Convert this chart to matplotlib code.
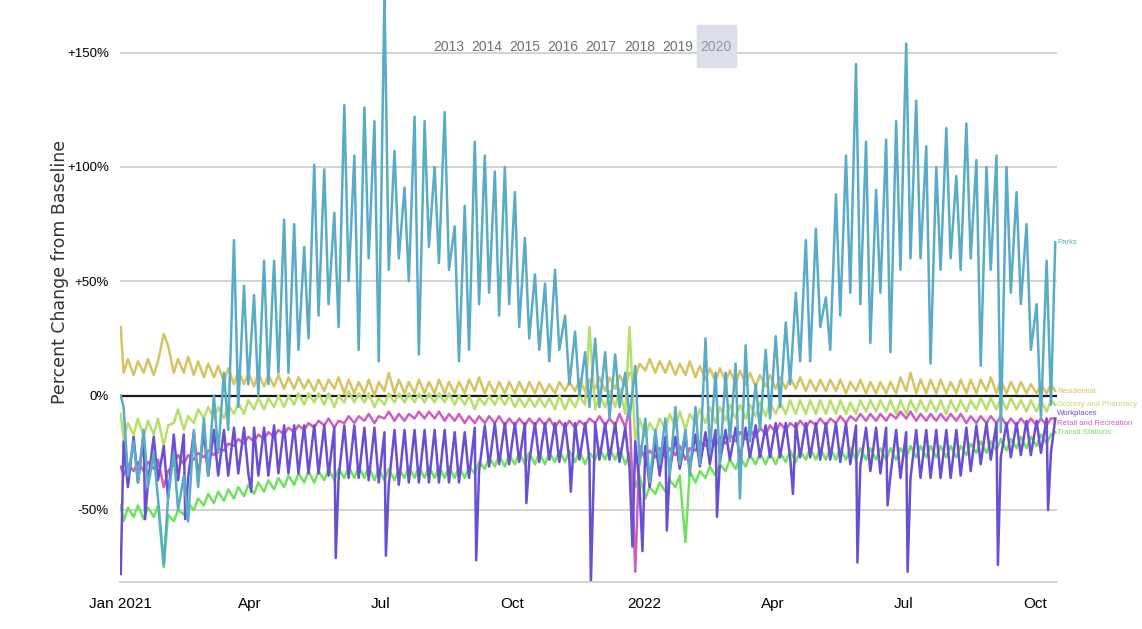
import matplotlib
matplotlib.use('Agg')
import numpy as np
import pandas as pd
import matplotlib.pyplot as plt
from matplotlib.patches import FancyBboxPatch

NARROW = ['Liberation Sans Narrow', 'Liberation Sans', 'DejaVu Sans']

# one value per week: Sunday reading and Wednesday reading, plus first/last day
sundays = pd.date_range('2021-01-03', periods=93, freq='7D')
wednesdays = pd.date_range('2021-01-06', periods=93, freq='7D')
first_day = pd.Timestamp('2021-01-01')
last_day = pd.Timestamp('2022-10-15')

parks_sun = [-5, -20, -15, -25, -74, -25, -35, -15, -10, 0,
             10, 68, 48, 44, 59, 59, 77, 75, 65, 101,
             99, 80, 127, 105, 126, 120, 176, 107, 91, 122,
             120, 100, 124, 74, 83, 111, 105, 98, 100, 89,
             69, 53, 49, 55, 35, 28, 19, 25, 19, 18,
             10, 13, -10, -15, -10, -5, -15, -5, 25, 10,
             10, 14, 22, 5, 20, 26, 32, 45, 68, 73,
             43, 88, 105, 145, 111, 90, 112, 120, 154, 129,
             109, 100, 117, 96, 119, 103, 100, 105, 100, 89,
             75, 40, 59]
parks_wed = [-35, -38, -40, -45, -45, -50, -55, -40, -35, -25,
             -15, -5, 5, 0, 5, 10, 10, 20, 25, 35,
             40, 30, 50, 20, 60, 15, 55, 60, 50, 18,
             65, 58, 55, 15, 20, 40, 45, 35, 40, 30,
             25, 20, 15, 20, 5, 0, -5, -5, -10, -5,
             -10, -30, -38, -30, -35, -30, -35, -30, -25, -30,
             -20, -45, -20, -15, -10, -5, 5, 15, 15, 30,
             20, 35, 45, 40, 23, 45, 19, 55, 60, 60,
             14, 55, 60, 55, 60, 13, 55, -16, 45, 40,
             20, -10, -4]

resid_sun = [10, 9, 10, 9, 27, 10, 10, 9, 8, 8,
             6, 5, 5, 4, 4, 4, 3, 3, 3, 2,
             2, 3, 1, 1, 1, 0, 2, 1, 1, 1,
             1, 1, 1, 1, 1, 2, 1, 1, 1, 1,
             1, 1, 1, 1, 2, 2, 2, 3, 2, 3,
             4, 8, 11, 10, 10, 9, 9, 8, 7, 6,
             6, 5, 5, 4, 4, 3, 3, 3, 2, 2,
             2, 2, 1, 2, 1, 1, 1, 1, 2, 1,
             1, 1, 1, 1, 1, 1, 2, 1, 1, 1,
             1, 1, 1]
resid_wed = [16, 15, 16, 15, 22, 16, 17, 15, 14, 13,
             12, 11, 10, 10, 9, 9, 8, 8, 7, 7,
             7, 8, 7, 6, 7, 6, 10, 7, 6, 7,
             6, 7, 6, 6, 7, 8, 6, 6, 6, 6,
             6, 6, 5, 6, 6, 7, 7, 8, 8, 9,
             10, 14, 16, 15, 15, 14, 15, 13, 12, 12,
             11, 11, 10, 9, 9, 8, 8, 8, 7, 7,
             7, 7, 6, 7, 6, 6, 6, 8, 10, 7,
             7, 7, 6, 7, 7, 7, 8, 7, 6, 6,
             5, 5, 5]

grocery_sun = [-19, -17, -18, -17, -22, -12, -15, -12, -10, -10,
               -10, -8, -8, -6, -6, -5, -5, -4, -4, -3,
               -4, -5, -3, -3, -3, -5, -4, -3, -3, -3,
               -3, -3, -3, -4, -4, -6, -4, -4, -4, -5,
               -5, -5, -5, -6, -6, -5, -4, -6, -5, -5,
               -8, -20, -18, -16, -15, -14, -15, -12, -12, -12,
               -11, -10, -10, -9, -9, -8, -8, -8, -8, -8,
               -8, -8, -8, -8, -7, -7, -7, -8, -8, -7,
               -7, -7, -8, -7, -7, -6, -6, -6, -6, -6,
               -7, -7, -7]
grocery_wed = [-12, -10, -11, -10, -13, -6, -9, -6, -5, -5,
               -4, -3, -2, -1, -1, 0, 0, 1, 1, 1,
               1, 0, 2, 1, 1, -1, 1, 1, 1, 1,
               1, 1, 1, 0, 0, -1, 0, 0, 0, -1,
               -1, -1, -1, 0, -1, 0, 30, 0, 2, 3,
               30, -10, -12, -10, -8, -7, -8, -6, -5, -5,
               -4, -4, -4, -3, -3, -3, -2, -2, -2, -2,
               -2, -2, -3, -2, -2, -2, -2, -2, -2, -2,
               -2, -2, -2, -2, -2, -1, -1, -1, -1, -2,
               -2, -2, -2]

retail_sun = [-35, -33, -33, -32, -40, -30, -30, -28, -27, -26,
              -24, -22, -21, -20, -19, -18, -17, -16, -15, -14,
              -13, -14, -12, -12, -11, -12, -10, -11, -11, -10,
              -10, -10, -11, -11, -12, -12, -12, -12, -13, -13,
              -13, -13, -13, -14, -14, -14, -13, -12, -13, -13,
              -14, -77, -28, -27, -27, -26, -28, -24, -22, -22,
              -21, -20, -19, -18, -17, -16, -15, -14, -14, -13,
              -13, -12, -12, -11, -11, -11, -11, -10, -10, -11,
              -11, -11, -11, -11, -12, -12, -12, -12, -13, -13,
              -13, -13, -13]
retail_wed = [-30, -29, -29, -28, -33, -26, -26, -25, -24, -23,
              -21, -19, -18, -17, -16, -15, -14, -13, -12, -11,
              -10, -11, -9, -9, -8, -9, -7, -8, -8, -7,
              -7, -7, -8, -8, -9, -9, -9, -9, -10, -10,
              -10, -10, -10, -11, -11, -11, -10, -9, -10, -8,
              -5, -22, -24, -23, -23, -22, -23, -20, -18, -18,
              -17, -16, -15, -14, -13, -12, -12, -11, -11, -10,
              -10, -9, -9, -8, -8, -8, -8, -7, -7, -8,
              -8, -8, -8, -8, -9, -9, -9, -9, -10, -10,
              -10, -10, -10]

work_sun = [-20, -18, -17, -18, -22, -17, -17, -16, -16, -15,
            -15, -14, -14, -14, -14, -13, -13, -13, -13, -13,
            -13, -14, -13, -13, -14, -14, -16, -15, -15, -15,
            -15, -15, -15, -16, -16, -14, -13, -12, -12, -12,
            -12, -12, -12, -12, -12, -12, -12, -12, -12, -12,
            -14, -20, -22, -20, -18, -18, -18, -17, -16, -15,
            -15, -14, -14, -13, -13, -12, -12, -12, -12, -12,
            -12, -12, -12, -13, -14, -14, -14, -15, -16, -15,
            -15, -15, -15, -15, -14, -13, -12, -12, -12, -12,
            -11, -11, -10]
work_wed = [-40, -38, -38, -37, -45, -37, -36, -36, -35, -35,
            -35, -34, -34, -35, -35, -34, -34, -34, -34, -34,
            -35, -36, -36, -36, -37, -38, -39, -39, -38, -38,
            -38, -38, -38, -38, -36, -33, -31, -30, -30, -29,
            -29, -29, -28, -29, -28, -28, -28, -28, -28, -29,
            -32, -40, -40, -35, -33, -32, -32, -31, -30, -29,
            -28, -28, -27, -27, -27, -27, -27, -27, -27, -28,
            -28, -29, -30, -31, -33, -34, -35, -36, -36, -36,
            -36, -36, -36, -35, -33, -30, -28, -27, -27, -26,
            -26, -25, -25]
holiday_dates = ['2021-01-18', '2021-02-15', '2021-04-02', '2021-05-31',
                 '2021-07-05', '2021-09-06', '2021-10-11', '2021-11-11',
                 '2021-11-25', '2021-12-24', '2021-12-31', '2022-01-17',
                 '2022-02-21', '2022-04-15', '2022-05-30', '2022-06-20',
                 '2022-07-04', '2022-09-05', '2022-10-10']
work_holiday = [-54, -54, -42, -71, -70, -72, -47, -42, -82, -66,
                -68, -59, -53, -43, -73, -48, -77, -74, -50]

transit_sun = [-55, -53, -54, -53, -75, -55, -52, -50, -48, -47,
               -46, -45, -44, -43, -42, -41, -40, -39, -38, -38,
               -37, -37, -36, -36, -36, -37, -37, -37, -36, -36,
               -36, -36, -36, -36, -36, -34, -32, -31, -31, -30,
               -30, -30, -30, -29, -29, -29, -30, -28, -28, -28,
               -30, -40, -45, -43, -42, -40, -64, -38, -36, -35,
               -33, -32, -31, -30, -30, -30, -29, -29, -28, -28,
               -28, -28, -28, -28, -28, -28, -28, -28, -27, -27,
               -27, -27, -27, -27, -26, -25, -25, -24, -24, -23,
               -23, -22, -21]
transit_wed = [-49, -48, -49, -48, -52, -50, -47, -45, -43, -42,
               -41, -40, -39, -38, -37, -36, -35, -34, -33, -33,
               -32, -32, -31, -31, -31, -32, -32, -32, -31, -31,
               -31, -31, -31, -31, -31, -29, -27, -26, -26, -25,
               -25, -25, -25, -24, -24, -24, -25, -23, -23, -23,
               -25, -35, -40, -38, -37, -35, -33, -33, -31, -30,
               -28, -27, -26, -25, -25, -25, -24, -24, -23, -23,
               -23, -23, -23, -23, -23, -23, -23, -23, -22, -22,
               -22, -22, -22, -22, -21, -20, -20, -19, -19, -18,
               -18, -17, -17]

# first day / last day readings
names = ['Residential', 'Grocery and Pharmacy', 'Transit Stations',
         'Retail and Recreation', 'Workplaces', 'Parks']
first_vals = {'Parks': 0, 'Residential': 30, 'Grocery and Pharmacy': -8,
              'Retail and Recreation': -31, 'Workplaces': -78, 'Transit Stations': -48}
last_vals = {'Parks': 67, 'Residential': 2, 'Grocery and Pharmacy': -4,
             'Retail and Recreation': -10, 'Workplaces': -10, 'Transit Stations': -16}
colors = {'Parks': '#5aabc6', 'Residential': '#d6c462', 'Grocery and Pharmacy': '#b8df6c',
          'Retail and Recreation': '#cd5fbf', 'Workplaces': '#6a4fd2',
          'Transit Stations': '#70e25c'}
weekly = {'Parks': (parks_sun, parks_wed), 'Residential': (resid_sun, resid_wed),
          'Grocery and Pharmacy': (grocery_sun, grocery_wed),
          'Retail and Recreation': (retail_sun, retail_wed),
          'Workplaces': (work_sun, work_wed), 'Transit Stations': (transit_sun, transit_wed)}
# small vertical nudge (points) so the end labels do not sit on each other
label_nudge = {'Workplaces': 3.5, 'Retail and Recreation': -3.5}


def build(name):
    sun, wed = weekly[name]
    dates = [first_day] + list(sundays) + list(wednesdays) + [last_day]
    vals = [first_vals[name]] + sun + wed + [last_vals[name]]
    if name == 'Workplaces':
        dates += list(pd.to_datetime(holiday_dates))
        vals += work_holiday
    return pd.Series(vals, index=pd.DatetimeIndex(dates)).sort_index()


fig = plt.figure(figsize=(11.42, 6.29), dpi=100)
ax = fig.add_axes([0.1051, 0.0747, 0.8205, 0.9253])

for y in [150, 100, 50, -50]:
    ax.axhline(y, color='#cfcfcf', lw=1.3, zorder=1)
ax.axhline(0, color='#1a1a1a', lw=1.6, zorder=1.5)

for name in names:
    s = build(name)
    ax.plot(s.index, s.values, color=colors[name], lw=1.8, zorder=2)
    ax.annotate(name, (s.index[-1], s.values[-1]),
                xytext=(1.5, label_nudge.get(name, 0)),
                textcoords='offset points', va='center', ha='left',
                fontsize=5.6, color=colors[name], family=NARROW,
                annotation_clip=False)

ax.set_xlim(pd.Timestamp('2020-12-31 12:00'), pd.Timestamp('2022-10-16 06:00'))
ax.set_ylim(-81.5, 173)

ax.set_yticks([150, 100, 50, 0, -50])
ax.set_yticklabels(['+150%', '+100%', '+50%', '0%', '-50%'], family=NARROW, fontsize=9.5)
tick_dates = pd.to_datetime(['2021-01-01', '2021-04-01', '2021-07-01', '2021-10-01',
                             '2022-01-01', '2022-04-01', '2022-07-01', '2022-10-01'])
tick_labels = ['Jan 2021', 'Apr', 'Jul', 'Oct', '2022', 'Apr', 'Jul', 'Oct']
ax.set_xticks(tick_dates)
ax.set_xticklabels(tick_labels, family=NARROW, fontsize=11)
ax.tick_params(axis='y', length=0, pad=8)
ax.tick_params(axis='x', length=0, pad=11)

for side in ['top', 'right', 'left']:
    ax.spines[side].set_visible(False)
ax.spines['bottom'].set_color('#cfcfcf')
ax.spines['bottom'].set_linewidth(1.3)

fig.text(60 / 1142, 1 - 272 / 629, 'Percent Change from Baseline', rotation=90,
         ha='center', va='center', fontsize=12.5, color='#333333', family='DejaVu Sans')

# year selector
box = FancyBboxPatch((699 / 1142, 1 - 67 / 629), 36 / 1142, 41 / 629,
                     boxstyle='round,pad=0.002', transform=fig.transFigure,
                     facecolor='#dcdfe9', edgecolor='none', zorder=3)
fig.patches.append(box)
years = ['2013', '2014', '2015', '2016', '2017', '2018', '2019', '2020']
year_x = [449, 487, 525, 563, 601, 640, 678, 716]
for yr, xp in zip(years, year_x):
    fig.text(xp / 1142, 1 - 47 / 629, yr, ha='center', va='center', fontsize=10,
             color='#8a9a9e' if yr == '2020' else '#66766c', family=NARROW, zorder=4)

fig.savefig('out.png', dpi=100)
